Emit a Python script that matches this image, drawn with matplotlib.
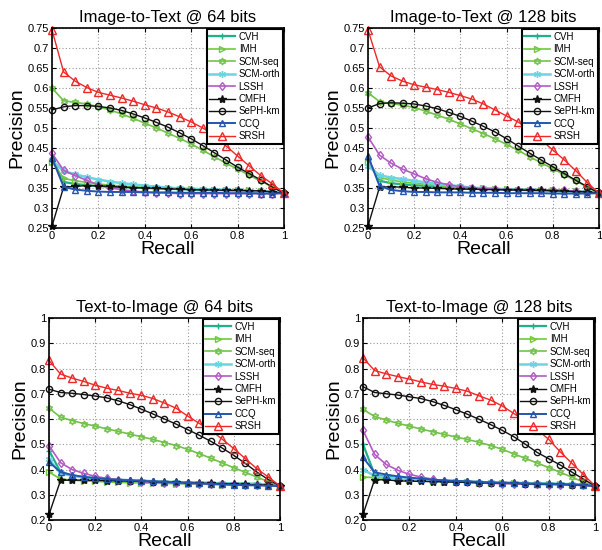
import numpy as np
import matplotlib
matplotlib.use("Agg")
import matplotlib.pyplot as plt

plt.rcParams['font.family'] = ['Liberation Sans', 'DejaVu Sans']

recall = [0.0, 0.05, 0.1, 0.15, 0.2, 0.25, 0.3, 0.35, 0.4, 0.45, 0.5,
          0.55, 0.6, 0.65, 0.7, 0.75, 0.8, 0.85, 0.9, 0.95, 1.0]

methods = ["CVH", "IMH", "SCM-seq", "SCM-orth", "LSSH", "CMFH", "SePH-km", "CCQ", "SRSH"]

titles = ["Image-to-Text @ 64 bits", "Image-to-Text @ 128 bits",
          "Text-to-Image @ 64 bits", "Text-to-Image @ 128 bits"]

# ---- Image-to-Text @ 64 bits ----
i2t64_cvh = [0.425, 0.365, 0.360, 0.357, 0.355, 0.353, 0.352, 0.351, 0.350, 0.349, 0.348,
             0.347, 0.346, 0.345, 0.345, 0.344, 0.343, 0.342, 0.341, 0.340, 0.337]
i2t64_imh = [0.415, 0.374, 0.368, 0.364, 0.360, 0.357, 0.355, 0.353, 0.351, 0.350, 0.349,
             0.348, 0.347, 0.346, 0.346, 0.345, 0.345, 0.344, 0.342, 0.340, 0.337]
i2t64_scmseq = [0.600, 0.568, 0.564, 0.560, 0.553, 0.545, 0.535, 0.524, 0.512, 0.500, 0.487,
                0.474, 0.460, 0.444, 0.428, 0.412, 0.397, 0.382, 0.367, 0.353, 0.337]
i2t64_scmorth = [0.420, 0.392, 0.384, 0.377, 0.371, 0.366, 0.362, 0.359, 0.356, 0.353, 0.351,
                 0.349, 0.348, 0.347, 0.346, 0.345, 0.344, 0.343, 0.341, 0.340, 0.337]
i2t64_lssh = [0.437, 0.394, 0.381, 0.369, 0.358, 0.350, 0.346, 0.342, 0.340, 0.338, 0.337,
              0.336, 0.336, 0.336, 0.336, 0.336, 0.336, 0.336, 0.336, 0.336, 0.337]
i2t64_cmfh = [0.255, 0.352, 0.354, 0.356, 0.355, 0.354, 0.352, 0.351, 0.350, 0.349, 0.348,
              0.347, 0.346, 0.345, 0.345, 0.344, 0.344, 0.343, 0.343, 0.340, 0.337]
i2t64_seph = [0.545, 0.553, 0.556, 0.556, 0.554, 0.550, 0.544, 0.535, 0.525, 0.514, 0.502,
              0.488, 0.473, 0.456, 0.438, 0.420, 0.402, 0.386, 0.370, 0.352, 0.337]
i2t64_ccq = [0.425, 0.353, 0.346, 0.343, 0.341, 0.340, 0.340, 0.340, 0.339, 0.339, 0.339,
             0.338, 0.338, 0.338, 0.338, 0.337, 0.337, 0.337, 0.336, 0.336, 0.337]
i2t64_srsh = [0.745, 0.640, 0.617, 0.601, 0.589, 0.582, 0.575, 0.567, 0.558, 0.550, 0.540,
              0.528, 0.515, 0.500, 0.482, 0.455, 0.430, 0.405, 0.381, 0.360, 0.337]

# ---- Image-to-Text @ 128 bits ----
i2t128_cvh = [0.420, 0.368, 0.362, 0.359, 0.357, 0.355, 0.353, 0.352, 0.351, 0.350, 0.349,
              0.348, 0.347, 0.346, 0.346, 0.345, 0.344, 0.343, 0.341, 0.340, 0.337]
i2t128_imh = [0.415, 0.376, 0.370, 0.365, 0.362, 0.359, 0.356, 0.354, 0.352, 0.350, 0.349,
              0.348, 0.347, 0.346, 0.345, 0.345, 0.344, 0.343, 0.342, 0.340, 0.337]
i2t128_scmseq = [0.588, 0.566, 0.561, 0.557, 0.551, 0.542, 0.532, 0.522, 0.510, 0.498, 0.486,
                 0.473, 0.459, 0.444, 0.428, 0.413, 0.398, 0.383, 0.368, 0.352, 0.337]
i2t128_scmorth = [0.405, 0.382, 0.376, 0.372, 0.368, 0.364, 0.360, 0.357, 0.354, 0.351, 0.349,
                  0.347, 0.346, 0.345, 0.344, 0.343, 0.342, 0.341, 0.341, 0.340, 0.337]
i2t128_lssh = [0.478, 0.432, 0.412, 0.397, 0.385, 0.373, 0.364, 0.358, 0.353, 0.350, 0.348,
               0.347, 0.346, 0.346, 0.345, 0.345, 0.345, 0.344, 0.342, 0.340, 0.337]
i2t128_cmfh = [0.255, 0.352, 0.353, 0.352, 0.350, 0.350, 0.349, 0.348, 0.347, 0.347, 0.346,
               0.346, 0.345, 0.345, 0.344, 0.344, 0.343, 0.342, 0.341, 0.340, 0.337]
i2t128_seph = [0.550, 0.561, 0.563, 0.562, 0.560, 0.555, 0.548, 0.539, 0.529, 0.517, 0.504,
               0.490, 0.473, 0.455, 0.437, 0.420, 0.403, 0.386, 0.369, 0.353, 0.337]
i2t128_ccq = [0.430, 0.355, 0.345, 0.342, 0.340, 0.340, 0.339, 0.339, 0.339, 0.338, 0.338,
              0.338, 0.337, 0.337, 0.337, 0.337, 0.336, 0.336, 0.336, 0.336, 0.337]
i2t128_srsh = [0.745, 0.653, 0.630, 0.617, 0.608, 0.602, 0.596, 0.589, 0.581, 0.572, 0.560,
               0.545, 0.530, 0.515, 0.495, 0.470, 0.445, 0.420, 0.393, 0.363, 0.337]

# ---- Text-to-Image @ 64 bits ----
t2i64_cvh = [0.475, 0.390, 0.377, 0.370, 0.366, 0.363, 0.360, 0.358, 0.356, 0.354, 0.352,
             0.350, 0.349, 0.348, 0.347, 0.346, 0.345, 0.344, 0.343, 0.340, 0.335]
t2i64_imh = [0.390, 0.362, 0.358, 0.355, 0.353, 0.351, 0.349, 0.348, 0.347, 0.346, 0.345,
             0.344, 0.343, 0.342, 0.341, 0.340, 0.339, 0.338, 0.338, 0.337, 0.335]
t2i64_scmseq = [0.643, 0.607, 0.594, 0.582, 0.572, 0.561, 0.551, 0.540, 0.530, 0.519, 0.507,
                0.495, 0.480, 0.463, 0.445, 0.426, 0.407, 0.389, 0.370, 0.352, 0.335]
t2i64_scmorth = [0.440, 0.385, 0.375, 0.368, 0.364, 0.361, 0.358, 0.356, 0.354, 0.352, 0.351,
                 0.349, 0.348, 0.347, 0.346, 0.345, 0.344, 0.343, 0.342, 0.340, 0.335]
t2i64_lssh = [0.495, 0.427, 0.400, 0.385, 0.373, 0.365, 0.360, 0.356, 0.352, 0.350, 0.348,
              0.346, 0.345, 0.344, 0.343, 0.342, 0.341, 0.340, 0.339, 0.338, 0.335]
t2i64_cmfh = [0.222, 0.357, 0.358, 0.358, 0.357, 0.356, 0.355, 0.354, 0.353, 0.352, 0.350,
              0.349, 0.348, 0.346, 0.345, 0.344, 0.343, 0.341, 0.340, 0.338, 0.335]
t2i64_seph = [0.718, 0.705, 0.702, 0.697, 0.691, 0.684, 0.672, 0.657, 0.639, 0.620, 0.600,
              0.580, 0.558, 0.536, 0.512, 0.485, 0.456, 0.424, 0.390, 0.360, 0.335]
t2i64_ccq = [0.430, 0.390, 0.378, 0.371, 0.366, 0.362, 0.359, 0.357, 0.355, 0.353, 0.351,
             0.349, 0.347, 0.345, 0.343, 0.341, 0.339, 0.338, 0.337, 0.336, 0.335]
t2i64_srsh = [0.832, 0.778, 0.762, 0.749, 0.734, 0.722, 0.713, 0.702, 0.694, 0.681, 0.663,
              0.643, 0.612, 0.583, 0.556, 0.520, 0.483, 0.443, 0.403, 0.370, 0.335]

# ---- Text-to-Image @ 128 bits ----
t2i128_cvh = [0.500, 0.380, 0.372, 0.367, 0.363, 0.360, 0.358, 0.356, 0.354, 0.352, 0.350,
              0.349, 0.348, 0.347, 0.346, 0.345, 0.344, 0.343, 0.342, 0.340, 0.335]
t2i128_imh = [0.370, 0.368, 0.366, 0.363, 0.360, 0.357, 0.354, 0.352, 0.350, 0.349, 0.348,
              0.347, 0.346, 0.345, 0.344, 0.343, 0.342, 0.341, 0.340, 0.338, 0.335]
t2i128_scmseq = [0.638, 0.610, 0.596, 0.583, 0.572, 0.560, 0.550, 0.539, 0.529, 0.519, 0.508,
                 0.495, 0.480, 0.462, 0.444, 0.426, 0.408, 0.389, 0.370, 0.350, 0.335]
t2i128_scmorth = [0.400, 0.375, 0.368, 0.364, 0.361, 0.358, 0.356, 0.354, 0.352, 0.351, 0.350,
                  0.349, 0.348, 0.347, 0.346, 0.345, 0.344, 0.343, 0.342, 0.340, 0.335]
t2i128_lssh = [0.555, 0.460, 0.420, 0.397, 0.381, 0.370, 0.362, 0.356, 0.352, 0.349, 0.347,
               0.345, 0.344, 0.343, 0.342, 0.341, 0.340, 0.339, 0.338, 0.337, 0.335]
t2i128_cmfh = [0.222, 0.360, 0.359, 0.355, 0.354, 0.353, 0.352, 0.351, 0.350, 0.349, 0.348,
               0.347, 0.346, 0.345, 0.344, 0.343, 0.342, 0.341, 0.340, 0.338, 0.335]
t2i128_seph = [0.728, 0.705, 0.700, 0.695, 0.688, 0.681, 0.669, 0.654, 0.637, 0.619, 0.599,
               0.578, 0.555, 0.530, 0.500, 0.468, 0.443, 0.418, 0.390, 0.362, 0.335]
t2i128_ccq = [0.448, 0.389, 0.380, 0.373, 0.368, 0.364, 0.360, 0.357, 0.355, 0.353, 0.351,
              0.349, 0.347, 0.346, 0.345, 0.344, 0.343, 0.342, 0.341, 0.339, 0.335]
t2i128_srsh = [0.842, 0.792, 0.779, 0.768, 0.758, 0.747, 0.737, 0.730, 0.721, 0.710, 0.692,
               0.675, 0.652, 0.622, 0.590, 0.558, 0.520, 0.470, 0.425, 0.380, 0.335]

panels = [
    [i2t64_cvh, i2t64_imh, i2t64_scmseq, i2t64_scmorth, i2t64_lssh, i2t64_cmfh, i2t64_seph, i2t64_ccq, i2t64_srsh],
    [i2t128_cvh, i2t128_imh, i2t128_scmseq, i2t128_scmorth, i2t128_lssh, i2t128_cmfh, i2t128_seph, i2t128_ccq, i2t128_srsh],
    [t2i64_cvh, t2i64_imh, t2i64_scmseq, t2i64_scmorth, t2i64_lssh, t2i64_cmfh, t2i64_seph, t2i64_ccq, t2i64_srsh],
    [t2i128_cvh, t2i128_imh, t2i128_scmseq, t2i128_scmorth, t2i128_lssh, t2i128_cmfh, t2i128_seph, t2i128_ccq, t2i128_srsh],
]

styles = {
    "CVH":      dict(color="#20b08a", marker="+", ms=5, mfc="#20b08a", lw=1.6),
    "IMH":      dict(color="#70c83c", marker=">", ms=4.5, mfc="none", lw=1.2),
    "SCM-seq":  dict(color="#72c24a", marker=(6, 1, 0), ms=5, mfc="none", lw=1.2),
    "SCM-orth": dict(color="#6cd4e0", marker=(6, 2, 0), ms=5, mfc="#6cd4e0", lw=1.8),
    "LSSH":     dict(color="#b25cc4", marker="d", ms=4.5, mfc="none", lw=1.2),
    "CMFH":     dict(color="#111111", marker="*", ms=6, mfc="#111111", lw=1.0),
    "SePH-km":  dict(color="#111111", marker="o", ms=4.5, mfc="none", lw=1.0),
    "CCQ":      dict(color="#2456b0", marker="^", ms=5, mfc="none", lw=1.4),
    "SRSH":     dict(color="#f02828", marker="^", ms=5.5, mfc="none", lw=1.0),
}

fig = plt.figure(figsize=(6.02, 5.50), dpi=100)
positions = [
    [0.0864, 0.5855, 0.3854, 0.3636],
    [0.6113, 0.5855, 0.3837, 0.3636],
    [0.0814, 0.0545, 0.3837, 0.3673],
    [0.6030, 0.0545, 0.3854, 0.3673],
]

for k in range(4):
    ax = fig.add_axes(positions[k])
    for name, vals in zip(methods, panels[k]):
        st = styles[name]
        ax.plot(recall, vals, color=st["color"], marker=st["marker"], markersize=st["ms"],
                markerfacecolor=st["mfc"], markeredgecolor=st["color"], markeredgewidth=1.0,
                linewidth=st["lw"], label=name, clip_on=False)
    ax.set_xlim(0, 1)
    if k < 2:
        ax.set_ylim(0.25, 0.75)
        ax.set_yticks([0.25, 0.3, 0.35, 0.4, 0.45, 0.5, 0.55, 0.6, 0.65, 0.7, 0.75])
        ax.set_yticklabels(["0.25", "0.3", "0.35", "0.4", "0.45", "0.5", "0.55", "0.6", "0.65", "0.7", "0.75"])
    else:
        ax.set_ylim(0.2, 1.0)
        ax.set_yticks([0.2, 0.3, 0.4, 0.5, 0.6, 0.7, 0.8, 0.9, 1.0])
        ax.set_yticklabels(["0.2", "0.3", "0.4", "0.5", "0.6", "0.7", "0.8", "0.9", "1"])
    ax.set_xticks([0, 0.2, 0.4, 0.6, 0.8, 1.0])
    ax.set_xticklabels(["0", "0.2", "0.4", "0.6", "0.8", "1"])
    ax.tick_params(direction="in", labelsize=8, length=3, width=0.8, top=True, right=True, pad=2)
    ax.grid(True, linestyle=(0, (1, 2)), color="#999999", linewidth=0.8)
    for sp in ax.spines.values():
        sp.set_linewidth(1.2)
        sp.set_color("black")
    ax.set_title(titles[k], fontsize=12, pad=4)
    ax.set_xlabel("Recall", fontsize=14, labelpad=0)
    ax.set_ylabel("Precision", fontsize=14, labelpad=2)
    leg = ax.legend(loc="upper right", fontsize=7, frameon=True, fancybox=False,
                    borderaxespad=0.1, handlelength=2.6, labelspacing=0.25,
                    handletextpad=0.4, borderpad=0.3)
    leg.get_frame().set_edgecolor("black")
    leg.get_frame().set_linewidth(1.5)
    leg.get_frame().set_alpha(1)

fig.savefig("out.png", dpi=100)
